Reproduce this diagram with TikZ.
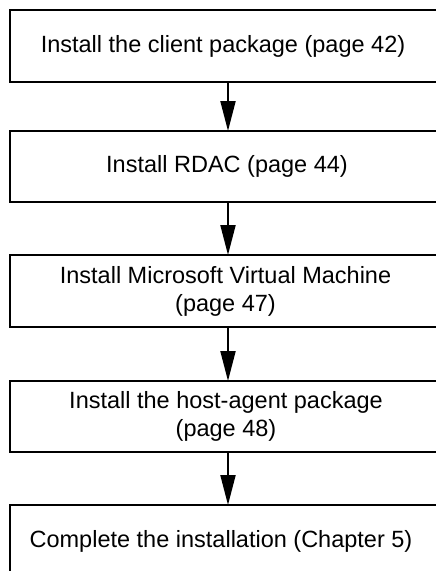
\documentclass[tikz,border=0pt]{standalone}
\usepackage{fontspec}
\setmainfont{Liberation Sans}
\usetikzlibrary{arrows.meta}

\tikzset{
  stepbox/.style={draw, line width=2pt, rectangle, outer sep=0pt, inner sep=0pt,
    minimum width=436pt, minimum height=72pt},
  steptext/.style={inner sep=0pt, align=center,
    font=\fontsize{23.5}{28}\selectfont},
  flow/.style={line width=2pt, -{Triangle[width=15pt,length=30pt]}}
}

\begin{document}
\begin{tikzpicture}[x=1pt,y=1pt]
  \useasboundingbox (0,0) rectangle (436,-571);
  \clip (0,0) rectangle (436,-571);

  % frames of the five steps
  \node[stepbox] (client) at (228,-46) {};
  \node[stepbox, minimum height=71pt] (rdac) at (228,-166.5) {};
  \node[stepbox] (mvm) at (228,-291) {};
  \node[stepbox, minimum height=71pt] (agent) at (228,-416.5) {};
  \node[stepbox] (finish) at (228,-541) {};

  % step captions
  \node[steptext] (clientText) at (223,-46)    {Install the client package (page 42)};
  \node[steptext] (rdacText)   at (227,-166.5) {Install RDAC (page 44)};
  \node[steptext] (mvmText)    at (225.5,-291) {Install Microsoft Virtual Machine\\(page 47)};
  \node[steptext] (agentText)  at (226,-416.5) {Install the host-agent package\\(page 48)};
  \node[steptext] (finishText) at (221,-541)   {Complete the installation (Chapter 5)};

  % connectors between the steps
  \draw[flow] (client.south) -- (rdac.north);
  \draw[flow] (rdac.south)   -- (mvm.north);
  \draw[flow] (mvm.south)    -- (agent.north);
  \draw[flow] (agent.south)  -- (finish.north);
\end{tikzpicture}
\end{document}
